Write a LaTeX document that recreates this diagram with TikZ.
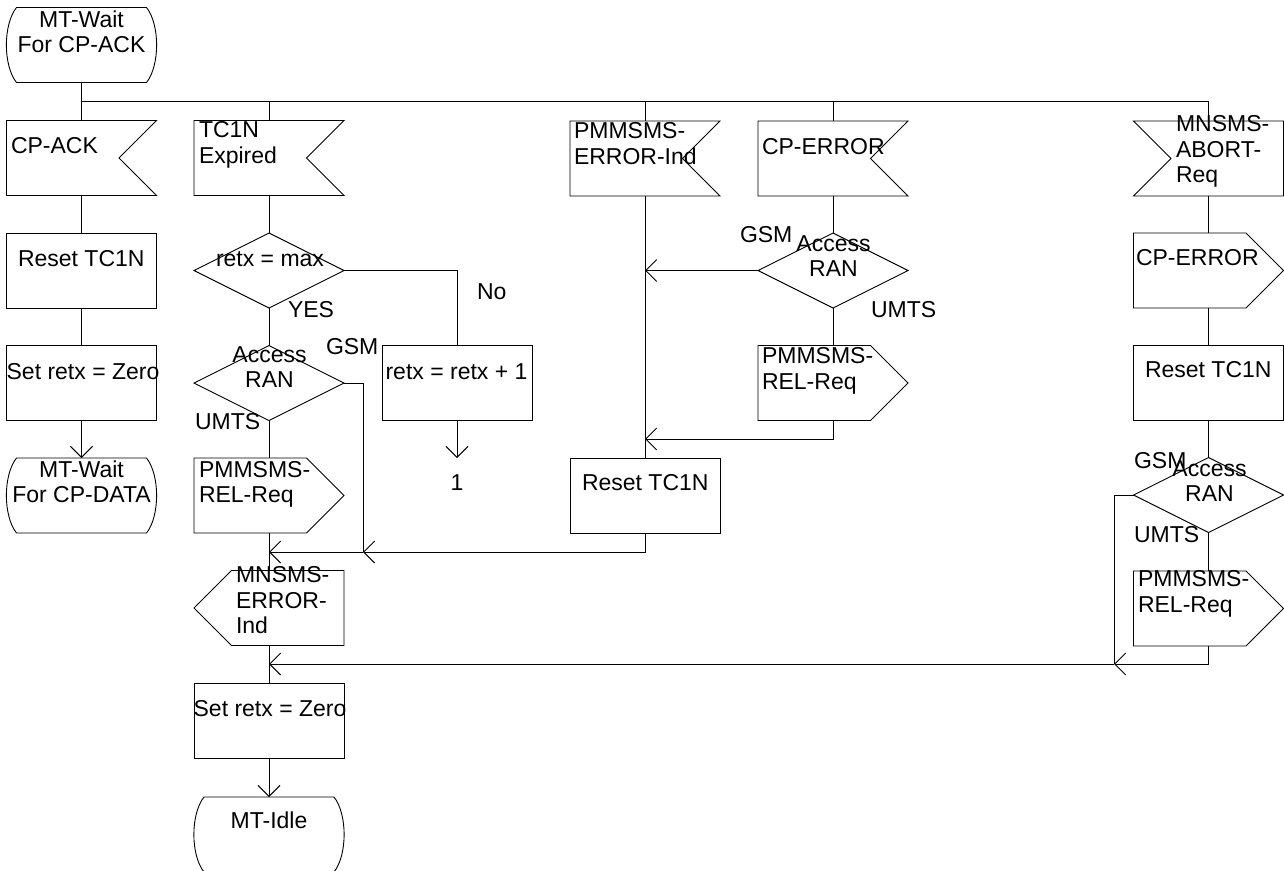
\documentclass[tikz,border=0pt]{standalone}
\usepackage{fontspec}
\setmainfont{Liberation Sans}
\usetikzlibrary{arrows.meta}
\tikzset{
  el/.style={rectangle, draw=none, minimum width=150pt, minimum height=75pt, inner sep=0pt, outer sep=0pt},
  task/.style={el, draw},
  txt/.style={inner sep=0pt, outer sep=0pt, font=\fontsize{23}{25.5}\selectfont},
  arr/.style={-{Straight Barb[length=11pt,width=22pt,line width=0.9pt]}},
  bus/.style={line width=1.4pt}
}
% SDL symbol outlines drawn around invisible rectangle nodes
\newcommand\sdlstate[1]{\draw ([xshift=10pt]#1.north west) -- ([xshift=-10pt]#1.north east)
  .. controls ([xshift=3.5pt,yshift=-17pt]#1.north east) and ([xshift=3.5pt,yshift=17pt]#1.south east) .. ([xshift=-10pt]#1.south east)
  -- ([xshift=10pt]#1.south west)
  .. controls ([xshift=-3.5pt,yshift=17pt]#1.south west) and ([xshift=-3.5pt,yshift=-17pt]#1.north west) .. cycle;}
\newcommand\sdlin[1]{\draw (#1.north west) -- (#1.north east) -- ([xshift=-37.5pt]#1.east) -- (#1.south east) -- (#1.south west) -- cycle;}
\newcommand\sdlinl[1]{\draw (#1.north east) -- (#1.north west) -- ([xshift=37.5pt]#1.west) -- (#1.south west) -- (#1.south east) -- cycle;}
\newcommand\sdlout[1]{\draw (#1.north west) -- ([xshift=-37.5pt]#1.north east) -- (#1.east) -- ([xshift=-37.5pt]#1.south east) -- (#1.south west) -- cycle;}
\newcommand\sdloutl[1]{\draw (#1.north east) -- ([xshift=37.5pt]#1.north west) -- (#1.west) -- ([xshift=37.5pt]#1.south west) -- (#1.south east) -- cycle;}
\newcommand\sdldia[1]{\draw (#1.north) -- (#1.east) -- (#1.south) -- (#1.west) -- cycle;}
\begin{document}
\begin{tikzpicture}[x=1pt,y=-1pt,line width=0.9pt]
\useasboundingbox (0,0) rectangle (1284,870);

% ---- symbols ----
\node[el] (s0) at (81.5,45) {};        \sdlstate{s0}
\node[el] (ack) at (81.5,158) {};      \sdlin{ack}
\node[task] (rst1) at (81.5,270.5) {};
\node[task] (zero1) at (81.5,382.5) {};
\node[el] (s1) at (81.5,495.5) {};     \sdlstate{s1}

\node[el] (tc1n) at (269,158) {};      \sdlin{tc1n}
\node[el] (max) at (269,270.5) {};     \sdldia{max}
\node[el] (ran2) at (269,383) {};      \sdldia{ran2}
\node[el] (rel2) at (269,495.5) {};    \sdlout{rel2}
\node[el] (err) at (269,608) {};       \sdloutl{err}
\node[task] (zero2) at (269,720.5) {};
\node[el] (idle) at (269,834.5) {};    \sdlstate{idle}

\node[task] (inc) at (457,383) {};

\node[el] (perr) at (645,158.5) {};    \sdlin{perr}
\node[task] (rst3) at (645,495.5) {};

\node[el] (cperr) at (833,158.5) {};   \sdlin{cperr}
\node[el] (ran4) at (833,270.5) {};    \sdldia{ran4}
\node[el] (rel4) at (833,383) {};      \sdlout{rel4}

\node[el] (abort) at (1208.5,158.5) {};  \sdlinl{abort}
\node[el] (cperr5) at (1208.5,270.5) {}; \sdlout{cperr5}
\node[task] (rst5) at (1208.5,383) {};
\node[el] (ran5) at (1208.5,495) {};     \sdldia{ran5}
\node[el] (rel5) at (1208.5,608.5) {};   \sdlout{rel5}

% ---- junction points ----
\coordinate (b0) at (81.5,101.5);
\coordinate (b5) at (1208.5,101.5);
\coordinate (one) at (457,458);
\coordinate (j1) at (269,552);
\coordinate (j2) at (363,552);
\coordinate (j3) at (645,270.5);
\coordinate (j4) at (645,439);
\coordinate (j5) at (1114,664);
\coordinate (j6) at (269,664);

% ---- connectors ----
\draw (s0.south) -- (ack.north);
\draw[bus] (b0) -- (b5);
\draw (b5) -- (abort.north);
\draw (b0 -| tc1n.north) -- (tc1n.north);
\draw (b0 -| perr.north) -- (perr.north);
\draw (b0 -| cperr.north) -- (cperr.north);

\draw (ack.south) -- (rst1.north);
\draw (rst1.south) -- (zero1.north);
\draw[arr] (zero1.south) -- (s1.north);

\draw (tc1n.south) -- (max.north);
\draw (max.south) -- (ran2.north);
\draw (ran2.south) -- (rel2.north);
\draw (rel2.south) -- (err.north);
\draw (err.south) -- (zero2.north);
\draw[arr] (zero2.south) -- (idle.north);
\draw (max.east) -| (inc.north);
\draw[arr] (inc.south) -- (one);
\draw (ran2.east) -| (j2);
\draw[arr] (rst3.south) |- (j2);
\draw[arr] (j2) -- (j1);

\draw (perr.south) -- (rst3.north);
\draw[arr] (ran4.west) -- (j3);
\draw[arr] (rel4.south) |- (j4);
\draw (cperr.south) -- (ran4.north);
\draw (ran4.south) -- (rel4.north);

\draw (abort.south) -- (cperr5.north);
\draw (cperr5.south) -- (rst5.north);
\draw (rst5.south) -- (ran5.north);
\draw (ran5.south) -- (rel5.north);
\draw (ran5.west) -| (j5);
\draw[arr] (rel5.south) |- (j5);
\draw[arr] (j5) -- (j6);

% ---- texts ----
\node[txt, align=center, anchor=north] (ts0) at (81.5,10.5) {MT-Wait\\For CP-ACK};
\node[txt, anchor=base west] (tack) at (11,153) {CP-ACK};
\node[txt, anchor=base west] (trst1) at (18,266) {Reset TC1N};
\node[txt, anchor=base] (tzero1) at (83,379) {Set retx = Zero};
\node[txt, align=center, anchor=north] (ts1) at (81.5,460.5) {MT-Wait\\For CP-DATA};

\node[txt, align=left, anchor=north west] (ttc1n) at (199,121.5) {TC1N\\Expired};
\node[txt, anchor=base] (tmax) at (270,266) {retx = max};
\node[txt, anchor=base west] (tyes) at (288,317) {YES};
\node[txt, anchor=base west] (tgsm2) at (326,354) {GSM};
\node[txt, align=center, anchor=north] (tran2) at (269.5,346.5) {Access\\RAN};
\node[txt, anchor=base west] (tumts2) at (195,429) {UMTS};
\node[txt, align=left, anchor=north west] (trel2) at (199,461) {PMMSMS-\\REL-Req};
\node[txt, align=left, anchor=north west] (terr) at (236,566.5) {MNSMS-\\ERROR-\\Ind};
\node[txt, anchor=base] (tzero2) at (270,716) {Set retx = Zero};
\node[txt, anchor=base] (tidle) at (269,828) {MT-Idle};

\node[txt, anchor=base west] (tno) at (477,299) {No};
\node[txt, anchor=base] (tinc) at (456.5,379) {retx = retx + 1};
\node[txt, anchor=base] (tone) at (457,490) {1};

\node[txt, align=left, anchor=north west] (tperr) at (574,122.5) {PMMSMS-\\ERROR-Ind};
\node[txt, anchor=base west] (trst3) at (582,490) {Reset TC1N};

\node[txt, anchor=base west] (tcperr) at (762,154) {CP-ERROR};
\node[txt, anchor=base west] (tgsm4) at (740,242) {GSM};
\node[txt, align=center, anchor=north] (tran4) at (833.5,235.5) {Access\\RAN};
\node[txt, anchor=base west] (tumts4) at (871,317) {UMTS};
\node[txt, align=left, anchor=north west] (trel4) at (762,347.5) {PMMSMS-\\REL-Req};

\node[txt, align=left, anchor=north west] (tabort) at (1176,115.5) {MNSMS-\\ABORT-\\Req};
\node[txt, anchor=base west] (tcperr5) at (1136,265) {CP-ERROR};
\node[txt, anchor=base west] (trst5) at (1145,377) {Reset TC1N};
\node[txt, anchor=base west] (tgsm5) at (1134,468) {GSM};
\node[txt, align=center, anchor=north] (tran5) at (1209.5,460.5) {Access\\RAN};
\node[txt, anchor=base west] (tumts5) at (1134,542) {UMTS};
\node[txt, align=left, anchor=north west] (trel5) at (1138,570.5) {PMMSMS-\\REL-Req};
\end{tikzpicture}
\end{document}
